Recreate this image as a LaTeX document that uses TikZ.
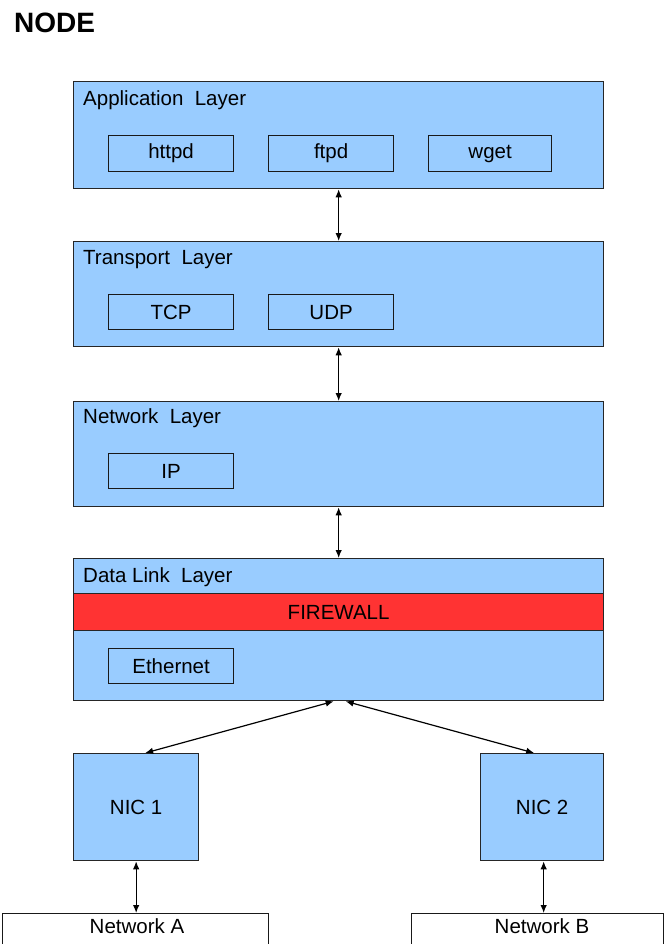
\documentclass[tikz,border=0pt]{standalone}
\usepackage{fontspec}
\setmainfont{Liberation Sans}
\usetikzlibrary{arrows.meta}
\definecolor{layerblue}{HTML}{99CCFF}
\definecolor{fwred}{HTML}{FF3333}
\begin{document}
\begin{tikzpicture}[x=1pt,y=-1pt,
  txt/.style={font=\fontsize{20.5}{24}\selectfont},
  layer/.style={draw=black!85, line width=1.3pt, fill=layerblue, anchor=north west, inner sep=0pt, minimum width=530pt},
  ttl/.style={txt, anchor=base west, inner sep=0pt},
  inbox/.style={txt, draw=black!90, line width=1.2pt, anchor=north west, inner sep=0pt, minimum width=125pt, minimum height=36pt},
  nic/.style={txt, draw=black!85, line width=1.3pt, fill=layerblue, anchor=north west, inner sep=0pt, minimum height=107pt},
  net/.style={draw=black!90, line width=1.2pt, fill=white, anchor=north west, inner sep=0pt, minimum height=60pt},
  lbl/.style={txt, anchor=base, inner sep=0pt},
  conn/.style={line width=1.2pt, {Latex[length=8pt,width=6.5pt]}-{Latex[length=8pt,width=6.5pt]}}]
\clip (0,0) rectangle (665,944);
\fill[white] (0,0) rectangle (665,944);
\node[anchor=base west, inner sep=0pt, font=\fontsize{28}{32}\selectfont\bfseries] (title) at (14,33) {NODE};
% layers
\node[layer, minimum height=107pt] (app) at (73,81) {};
\node[ttl] (appt) at (83,106) {Application\ \ Layer};
\node[inbox] (httpd) at (108,135) {httpd};
\node[inbox] (ftpd) at (268,135) {ftpd};
\node[inbox, minimum width=123pt] (wget) at (428,135) {wget};
\node[layer, minimum height=105pt] (trans) at (73,241) {};
\node[ttl] (transt) at (83,264) {Transport\ \ Layer};
\node[inbox, minimum height=35pt] (tcp) at (108,294) {TCP};
\node[inbox, minimum height=35pt] (udp) at (268,294) {UDP};
\node[layer, minimum height=105pt] (netl) at (73,401) {};
\node[ttl] (netlt) at (83,423) {Network\ \ Layer};
\node[inbox, minimum height=35pt] (ip) at (108,453) {IP};
\node[layer, minimum height=142pt] (dl) at (73,558) {};
\node[ttl] (dlt) at (83,582) {Data Link\ \ Layer};
\node[txt, draw=black!85, line width=1.2pt, fill=fwred, anchor=north west, inner sep=0pt, minimum width=530pt, minimum height=37pt] (fw) at (73,593) {FIREWALL};
\node[inbox, minimum height=35pt] (eth) at (108,648) {Ethernet};
% NICs
\node[nic, minimum width=125pt] (nic1) at (73,753) {NIC 1};
\node[nic, minimum width=123pt] (nic2) at (480,753) {NIC 2};
% networks
\node[net, minimum width=266pt] (neta) at (2,913) {};
\node[net, minimum width=252pt] (netb) at (411,913) {};
\node[lbl] (netat) at (137,933) {Network A};
\node[lbl] (netbt) at (542,933) {Network B};
% connectors
\draw[conn] (app.south) -- (trans.north);
\draw[conn] (trans.south) -- (netl.north);
\draw[conn] (netl.south) -- (dl.north);
\draw[conn] ([xshift=-5pt]dl.south) -- ([xshift=9pt]nic1.north);
\draw[conn] ([xshift=7pt]dl.south) -- ([xshift=-8pt]nic2.north);
\draw[conn] (nic1.south) -- (nic1.south |- neta.north);
\draw[conn] ([xshift=1.5pt]nic2.south) -- ([xshift=1.5pt]nic2.south |- netb.north);
\end{tikzpicture}
\end{document}
